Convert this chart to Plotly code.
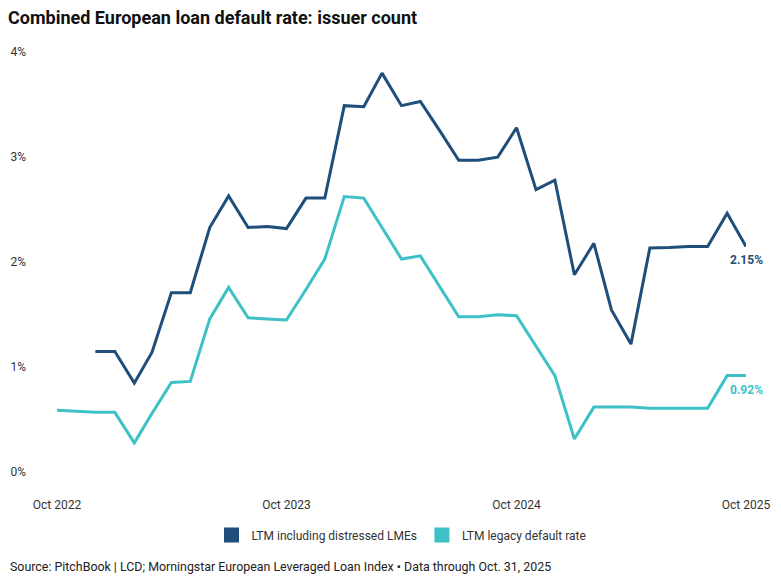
import plotly.graph_objects as go

months = ["2022-10-01", "2022-11-01", "2022-12-01", "2023-01-01", "2023-02-01", "2023-03-01",
          "2023-04-01", "2023-05-01", "2023-06-01", "2023-07-01", "2023-08-01", "2023-09-01",
          "2023-10-01", "2023-11-01", "2023-12-01", "2024-01-01", "2024-02-01", "2024-03-01",
          "2024-04-01", "2024-05-01", "2024-06-01", "2024-07-01", "2024-08-01", "2024-09-01",
          "2024-10-01", "2024-11-01", "2024-12-01", "2025-01-01", "2025-02-01", "2025-03-01",
          "2025-04-01", "2025-05-01", "2025-06-01", "2025-07-01", "2025-08-01", "2025-09-01",
          "2025-10-01"]

ltm_lme = [None, None, 1.15, 1.15, 0.85, 1.14, 1.71, 1.71, 2.33, 2.63, 2.33, 2.34,
           2.32, 2.61, 2.61, 3.49, 3.48, 3.80, 3.49, 3.53, 3.25, 2.97, 2.97, 3.00,
           3.28, 2.69, 2.78, 1.88, 2.18, 1.545, 1.22, 2.135, 2.14, 2.15, 2.15, 2.465, 2.15]

ltm_legacy = [0.59, 0.58, 0.57, 0.57, 0.28, 0.56, 0.855, 0.865, 1.46, 1.76, 1.47, 1.46,
              1.45, 1.74, 2.03, 2.625, 2.61, 2.33, 2.03, 2.06, 1.76, 1.48, 1.48, 1.50,
              1.49, 1.205, 0.92, 0.316, 0.62, 0.62, 0.62, 0.61, 0.61, 0.61, 0.61, 0.92, 0.92]

tick_dates = ["2022-10-01", "2023-10-01", "2024-10-01", "2025-10-01"]
tick_labels = ["Oct 2022", "Oct 2023", "Oct 2024", "Oct 2025"]
y_ticks = [0, 1, 2, 3, 4]
y_labels = ["0%", "1%", "2%", "3%", "4%"]

names = ["LTM including distressed LMEs", "LTM legacy default rate"]
DARK = "#1f4e7a"
TEAL = "#3ec1c6"
FONT = "Roboto"

# the page body adds an 8px margin, so the figure is 8px smaller and everything is placed 8px up/left
W, H = 773, 575

fig = go.Figure()
fig.add_trace(go.Scatter(x=months, y=ltm_lme, mode="lines", line=dict(color=DARK, width=3),
                         showlegend=False, name=names[0]))
fig.add_trace(go.Scatter(x=months, y=ltm_legacy, mode="lines", line=dict(color=TEAL, width=3),
                         showlegend=False, name=names[1]))
# legend swatches (square markers)
for n, c in zip(names, [DARK, TEAL]):
    fig.add_trace(go.Scatter(x=[None], y=[None], name=n, mode="markers",
                             marker=dict(color=c, symbol="square", size=15), showlegend=True))

fig.add_annotation(x=months[-1], y=ltm_lme[-1], text=f"<b>{ltm_lme[-1]:.2f}%</b>", showarrow=False,
                   yshift=-14, font=dict(family=FONT, size=12, color=DARK))
fig.add_annotation(x=months[-1], y=ltm_legacy[-1], text=f"<b>{ltm_legacy[-1]:.2f}%</b>", showarrow=False,
                   yshift=-14, font=dict(family=FONT, size=12, color=TEAL))

fig.add_annotation(xref="paper", yref="paper", x=-0.0711, y=-0.181, xanchor="left", yanchor="middle",
                   text="Source: PitchBook | LCD; Morningstar European Leveraged Loan Index • Data through Oct. 31, 2025",
                   showarrow=False, font=dict(family=FONT, size=12.4, color="#222"))

fig.update_layout(
    width=W, height=H,
    margin=dict(l=49, r=35, t=44, b=95, autoexpand=False),
    paper_bgcolor="white", plot_bgcolor="white",
    font=dict(family=FONT, size=12, color="#333"),
    title=dict(text="<b>Combined European loan default rate: issuer count</b>", xref="container",
               x=0, xanchor="left", y=1 - 10 / H, yanchor="middle",
               font=dict(family=FONT, size=18, color="#111")),
    legend=dict(orientation="h", x=0.5, xanchor="center", y=-0.108, yanchor="middle",
                itemwidth=30, font=dict(family=FONT, size=12, color="#333"), itemclick=False),
    xaxis=dict(type="date", range=["2022-10-01", "2025-10-01"], tickvals=tick_dates, ticktext=tick_labels,
               showgrid=False, zeroline=False, showline=False, ticks="", ticklabelstandoff=8,
               automargin=False, tickfont=dict(family=FONT, size=12, color="#333")),
    yaxis=dict(range=[-0.15, 4.001], tickvals=y_ticks, ticktext=y_labels, showgrid=False,
               zeroline=False, showline=False, ticks="", ticklabelstandoff=30,
               automargin=False, tickfont=dict(family=FONT, size=12, color="#333")),
    hovermode=False,
)

fig.write_html("out.html")
